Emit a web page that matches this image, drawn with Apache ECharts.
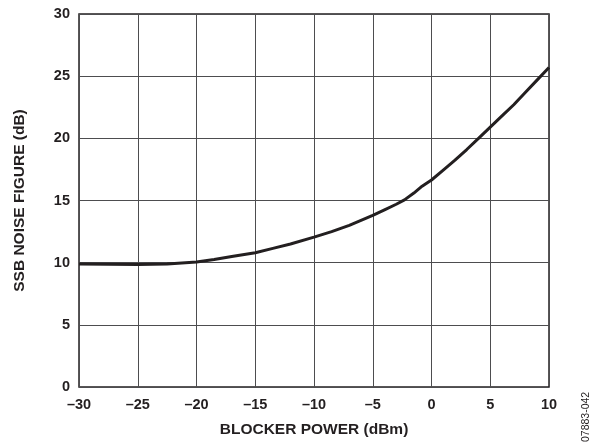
<!DOCTYPE html>
<html>
<head>
<meta charset="utf-8">
<script src="https://cdn.jsdelivr.net/npm/echarts@6/dist/echarts.min.js"></script>
<style>html,body{margin:0;padding:0;background:#fff;}#c{width:598px;height:443px;}</style>
</head>
<body>
<div id="c"></div>
<script>
const xTicks = [-30, -25, -20, -15, -10, -5, 0, 5, 10];
const yTicks = [0, 5, 10, 15, 20, 25, 30];
const blockerPower = [-30, -27.5, -25, -22.5, -20, -18.5, -17, -15, -13.5, -12, -10, -8.5, -7, -5, -4, -3, -2.3, -1.5, -0.8, 0, 1, 2, 3, 4, 5, 6, 7, 8, 9, 10];
const noiseFigure = [9.9, 9.88, 9.85, 9.9, 10.05, 10.25, 10.5, 10.8, 11.15, 11.5, 12.05, 12.5, 13.0, 13.8, 14.25, 14.7, 15.05, 15.6, 16.15, 16.65, 17.45, 18.25, 19.1, 20.0, 20.9, 21.8, 22.7, 23.7, 24.7, 25.7];

const chart = echarts.init(document.getElementById('c'));
const font = 'Liberation Sans, Arial, sans-serif';
chart.setOption({
  animation: false,
  backgroundColor: '#fff',
  grid: {left: 79, top: 14, right: 49, bottom: 54, show: true, borderColor: '#231f20', borderWidth: 1.5, backgroundColor: 'transparent'},
  xAxis: {
    type: 'value', min: -30, max: 10, interval: 5,
    name: 'BLOCKER POWER (dBm)', nameLocation: 'middle', nameGap: 35,
    nameTextStyle: {fontFamily: font, fontWeight: 'bold', fontSize: 15.5, color: '#231f20'},
    axisLine: {show: false}, axisTick: {show: false},
    axisLabel: {fontFamily: font, fontWeight: 'bold', fontSize: 14.5, color: '#231f20', margin: 10,
      formatter: v => (v < 0 ? '\u2013' + Math.abs(v) : String(v))},
    splitLine: {show: true, lineStyle: {color: '#4d4d4f', width: 1}}
  },
  yAxis: {
    type: 'value', min: 0, max: 30, interval: 5,
    name: 'SSB NOISE FIGURE (dB)', nameLocation: 'middle', nameGap: 51, nameRotate: 90,
    nameTextStyle: {fontFamily: font, fontWeight: 'bold', fontSize: 15.5, color: '#231f20'},
    axisLine: {show: false}, axisTick: {show: false},
    axisLabel: {fontFamily: font, fontWeight: 'bold', fontSize: 14.5, color: '#231f20', margin: 9},
    splitLine: {show: true, lineStyle: {color: '#4d4d4f', width: 1}}
  },
  graphic: [{
    type: 'text', x: 586, y: 442, rotation: Math.PI / 2,
    style: {text: '07883-042', fontFamily: font, fontSize: 10.5, fill: '#231f20', textAlign: 'left', textVerticalAlign: 'middle'}
  }],
  series: [{
    type: 'line', data: blockerPower.map((x, i) => [x, noiseFigure[i]]),
    smooth: false, showSymbol: false, lineStyle: {color: '#231f20', width: 3, join: 'round'}
  }]
});
</script>
</body>
</html>
